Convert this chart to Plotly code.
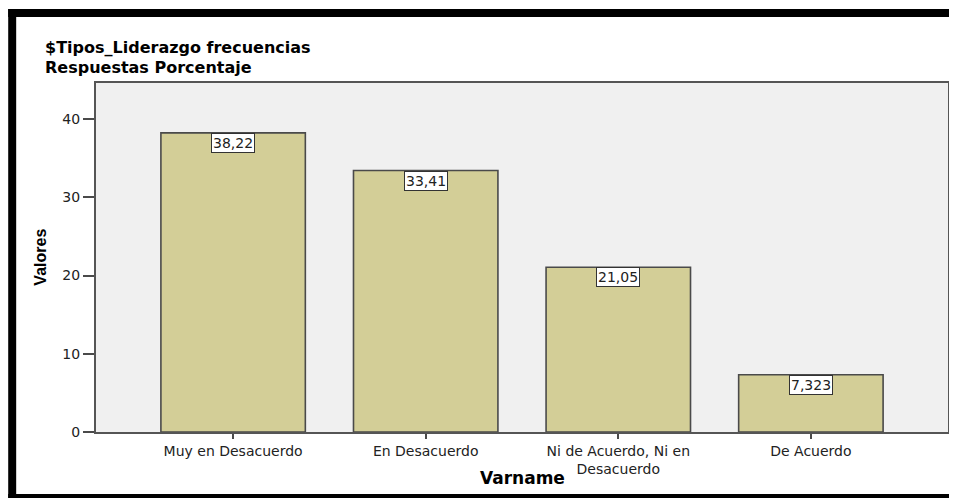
import plotly.graph_objects as go

# data
categories = ["Muy en Desacuerdo", "En Desacuerdo", "Ni de Acuerdo, Ni en Desacuerdo", "De Acuerdo"]
tick_labels = ["Muy en Desacuerdo", "En Desacuerdo", "Ni de Acuerdo, Ni en<br>Desacuerdo", "De Acuerdo"]
porcentajes = [38.22, 33.41, 21.05, 7.323]
y_ticks = [0, 10, 20, 30, 40]

title_lines = ["$Tipos_Liderazgo frecuencias", "Respuestas Porcentaje"]
x_title = "Varname"
y_title = "Valores"

PAGE_W, PAGE_H = 957, 498
OFF = 8  # the page body margin pushes the figure 8px right and down
W, H = PAGE_W - OFF, PAGE_H - OFF
L, R, T, B = 96, 950, 83, 432  # plot box in page pixels

BAR_FILL = "#D3CE97"
EDGE = "#4a4a4a"
FONT = "DejaVu Sans"


def px_x(px):
    return (px - L) / (R - L)


def px_y(py):
    return (B - py) / (B - T)


def label(v):
    return f"{v:.4g}".replace(".", ",")


fig = go.Figure(
    go.Bar(
        x=categories,
        y=porcentajes,
        width=0.75,
        marker=dict(color=BAR_FILL, line=dict(color=EDGE, width=1.6)),
        hoverinfo="x+y",
    )
)

# value boxes sitting on the top edge of each bar
for cat, v in zip(categories, porcentajes):
    fig.add_annotation(
        x=cat, y=v, xref="x", yref="y", text=label(v), showarrow=False,
        yanchor="top", bgcolor="white", bordercolor="#333333", borderwidth=1,
        borderpad=1, font=dict(family=FONT, size=14, color="#222222"),
    )

# two-line title, drawn as two annotations to keep the lines tight
for i, line in enumerate(title_lines):
    fig.add_annotation(
        x=px_x(43), y=px_y(48 + i * 19), xref="paper", yref="paper", text=line,
        showarrow=False, xanchor="left", yanchor="middle",
        font=dict(family=FONT, size=16, color="black", weight="bold"),
    )

fig.add_annotation(
    x=0.5, y=px_y(478), xref="paper", yref="paper", text=x_title, showarrow=False,
    xanchor="center", yanchor="middle",
    font=dict(family=FONT, size=17, color="black", weight="bold"),
)
fig.add_annotation(
    x=px_x(40), y=0.5, xref="paper", yref="paper", text=y_title, showarrow=False,
    textangle=-90, xanchor="center", yanchor="middle",
    font=dict(family="Liberation Sans", size=16, color="black", weight="bold"),
)

# thick black frame of the screenshot (left, top, bottom)
for x0, y0, x1, y1 in [(OFF, 9, 16, PAGE_H), (OFF, 9, PAGE_W, 17), (OFF, 494, PAGE_W, PAGE_H)]:
    fig.add_shape(
        type="rect", xref="paper", yref="paper",
        x0=px_x(x0), x1=px_x(x1), y0=px_y(y0), y1=px_y(y1),
        fillcolor="black", line=dict(width=0), layer="above",
    )

fig.update_xaxes(
    type="category", range=[-0.712, 3.712],
    tickmode="array", tickvals=categories, ticktext=tick_labels,
    ticks="outside", ticklen=5, tickwidth=2, tickcolor=EDGE,
    showline=True, linecolor="#555555", linewidth=2, mirror=True,
    showgrid=False, tickfont=dict(family=FONT, size=14, color="#222222"),
)
fig.update_yaxes(
    range=[0, 44.6], tickmode="array", tickvals=y_ticks,
    ticks="outside", ticklen=11, tickwidth=1.5, tickcolor=EDGE,
    showline=True, linecolor="#555555", linewidth=2, mirror=True,
    showgrid=False, zeroline=False, tickfont=dict(family=FONT, size=14, color="#222222"),
)

fig.update_layout(
    width=W, height=H,
    margin=dict(l=L - OFF, r=PAGE_W - R, t=T - OFF, b=PAGE_H - B, pad=0),
    paper_bgcolor="white", plot_bgcolor="#F0F0F0",
    showlegend=False,
)

fig.write_html("out.html")
